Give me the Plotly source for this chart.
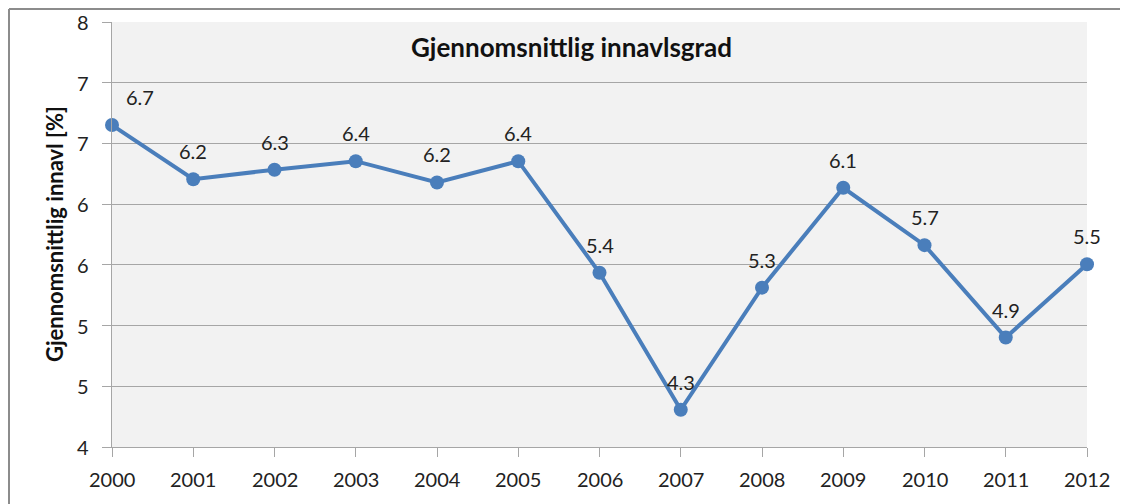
import plotly.graph_objects as go

years = list(range(2000, 2013))
# plotted positions
values = [7.03, 6.52, 6.61, 6.69, 6.49, 6.69, 5.64, 4.35, 5.50, 6.44, 5.90, 5.03, 5.72]
# data label texts as printed in the picture
labels = ["6.7", "6.2", "6.3", "6.4", "6.2", "6.4", "5.4", "4.3", "5.3", "6.1", "5.7", "4.9", "5.5"]
label_xshift = [28, 0, 0, 0, 0, 0, 0, 0, 0, 0, 0, 0, 0]
ytick_vals = [4 + i * 4 / 7 for i in range(8)]
ytick_text = ["4", "5", "5", "6", "6", "7", "7", "8"]
xtick_text = [str(y) for y in years]

FONT = "Lato"
blue = "#4A7EBB"
grid = "#A6A6A6"
txt = "#222222"

# page body has an 8px margin: figure is placed at (8, 8)
OFF = 8
FW, FH = 1128 - OFF, 504 - OFF
L, R, T, B = 112 - OFF, 41, 22 - OFF, 57
W, H = FW - L - R, FH - T - B

def px(x):
    return (x - OFF - L) / W

def py(y):
    return 1 - (y - OFF - T) / H

fig = go.Figure()
fig.add_trace(go.Scatter(
    x=years, y=values, mode="lines+markers",
    line=dict(color=blue, width=4),
    marker=dict(color=blue, size=14),
    hoverinfo="skip", showlegend=False, cliponaxis=False,
))

for x, y, t, xs in zip(years, values, labels, label_xshift):
    fig.add_annotation(x=x, y=y, text=t, showarrow=False, yshift=28, xshift=xs,
                       font=dict(family=FONT, size=20, color=txt))

# tick labels placed as in the reference
for v, t in zip(ytick_vals, ytick_text):
    fig.add_annotation(xref="paper", yref="y", x=px(91), y=v, xanchor="right", yanchor="middle",
                       text=t, showarrow=False, font=dict(family=FONT, size=20, color=txt))
for v, t in zip(years, xtick_text):
    fig.add_annotation(xref="x", yref="paper", x=v, y=py(479), xanchor="center", yanchor="middle",
                       text=t, showarrow=False, font=dict(family=FONT, size=20, color=txt))

fig.add_annotation(xref="paper", yref="paper", x=px(571), y=py(47), yanchor="middle",
                   text="<b>Gjennomsnittlig innavlsgrad</b>", showarrow=False,
                   font=dict(family=FONT, size=26, color="#111111"))

fig.add_annotation(xref="paper", yref="paper", x=px(55), y=py(234), xanchor="center",
                   yanchor="middle", textangle=-90,
                   text="<b>Gjennomsnittlig innavl [%]</b>", showarrow=False,
                   font=dict(family=FONT, size=22, color="#111111"))

fig.add_shape(type="line", xref="paper", yref="paper", x0=px(9), x1=px(1135), y0=py(9), y1=py(9),
              line=dict(color="#8C8C8C", width=2))
fig.add_shape(type="line", xref="paper", yref="paper", x0=px(9), x1=px(9), y0=py(9), y1=py(510),
              line=dict(color="#8C8C8C", width=2))

fig.update_layout(
    width=FW, height=FH,
    margin=dict(l=L, r=R, t=T, b=B, autoexpand=False),
    paper_bgcolor="white", plot_bgcolor="#F2F2F2",
    font=dict(family=FONT, size=20, color=txt),
    xaxis=dict(range=[2000, 2012], tickvals=years, showticklabels=False,
               showgrid=False, zeroline=False, showline=True, linecolor=grid, linewidth=1,
               ticks="outside", ticklen=9, tickcolor=grid),
    yaxis=dict(range=[4, 8], tickvals=ytick_vals, showticklabels=False,
               showgrid=True, gridcolor=grid, gridwidth=1, zeroline=False,
               showline=True, linecolor=grid, linewidth=1,
               ticks="outside", ticklen=9, tickcolor=grid),
)

fig.write_html("out.html")
